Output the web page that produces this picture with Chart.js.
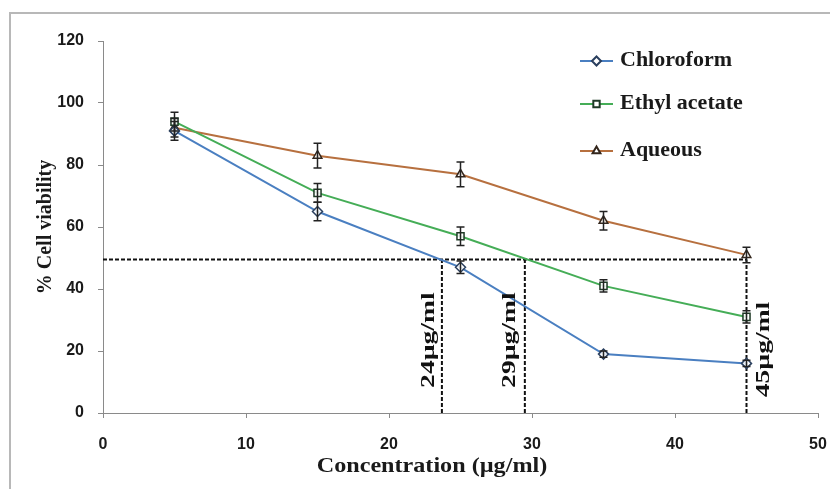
<!DOCTYPE html>
<html>
<head>
<meta charset="utf-8">
<script src="https://cdn.jsdelivr.net/npm/chart.js@4.4.1/dist/chart.umd.min.js"></script>
<style>
  html, body { margin: 0; padding: 0; background: #fff; }
  #wrap { width: 830px; height: 489px; position: relative; }
</style>
</head>
<body>
<div id="wrap"><canvas id="c" width="830" height="489"></canvas></div>
<script>
// ---- data ----
const concentrations = [5, 15, 25, 35, 45];
const seriesNames = ['Chloroform', 'Ethyl acetate', 'Aqueous'];
const chloroform = [91, 65, 47, 19, 16];
const ethylAcetate = [94, 71, 57, 41, 31];
const aqueous = [92, 83, 77, 62, 51];
const chloroformErr = [3, 3, 2, 1, 1];
const ethylAcetateErr = [3, 3, 3, 2, 2];
const aqueousErr = [3, 4, 4, 3, 2.5];
const cutoffViability = 49.5;
const ic50Values = [23.7, 29.5, 45];
const ic50Labels = ['24µg/ml', '29µg/ml', '45µg/ml'];
const xTicks = [0, 10, 20, 30, 40, 50];
const yTicks = [0, 20, 40, 60, 80, 100, 120];

const SERIF = "'Liberation Serif', 'Times New Roman', serif";
const NARROW = "'Liberation Sans Narrow', 'Arial Narrow', 'Liberation Sans', sans-serif";

const colors = {
  line: ['#4a7fc1', '#45ad57', '#b7703f'],
  marker: ['#2a3f5e', '#1f3a26', '#33261c']
};
const pointStyles = ['rectRot', 'rect', 'triangle'];
const values = [chloroform, ethylAcetate, aqueous];
const errors = [chloroformErr, ethylAcetateErr, aqueousErr];

const toXY = (xs, ys) => xs.map((x, i) => ({ x: x, y: ys[i] }));

const datasets = values.map((v, i) => ({
  label: seriesNames[i],
  data: toXY(concentrations, v),
  borderColor: colors.line[i],
  borderWidth: 2,
  pointStyle: pointStyles[i],
  pointRadius: 5,
  pointBackgroundColor: 'rgba(255,255,255,0.85)',
  pointBorderColor: colors.marker[i],
  pointBorderWidth: 1.5,
  tension: 0,
  errors: errors[i],
  order: 1
}));

// dashed guide lines
const dashStyle = { borderColor: '#111', borderWidth: 2, borderDash: [4, 2], pointRadius: 0, isGuide: true, order: 2 };
datasets.push(Object.assign({ label: 'cutoff', data: [{ x: 0, y: cutoffViability }, { x: ic50Values[2], y: cutoffViability }] }, dashStyle));
ic50Values.forEach((v, i) => {
  datasets.push(Object.assign({ label: 'ic50-' + i, data: [{ x: v, y: 0 }, { x: v, y: cutoffViability }] }, dashStyle));
});

const errorBarPlugin = {
  id: 'errorBars',
  afterDatasetsDraw(chart) {
    const ctx = chart.ctx, xs = chart.scales.x, ys = chart.scales.y;
    ctx.save();
    ctx.strokeStyle = '#222';
    ctx.lineWidth = 1.5;
    chart.data.datasets.forEach((ds) => {
      if (!ds.errors) return;
      ds.data.forEach((p, j) => {
        const e = ds.errors[j];
        const px = xs.getPixelForValue(p.x);
        const y1 = ys.getPixelForValue(p.y + e);
        const y2 = ys.getPixelForValue(p.y - e);
        ctx.beginPath();
        ctx.moveTo(px, y1); ctx.lineTo(px, y2);
        ctx.moveTo(px - 4, y1); ctx.lineTo(px + 4, y1);
        ctx.moveTo(px - 4, y2); ctx.lineTo(px + 4, y2);
        ctx.stroke();
      });
    });
    ctx.restore();
  }
};

function stretchedText(ctx, text, x, y, sx, rot) {
  ctx.save();
  ctx.translate(x, y);
  if (rot) ctx.rotate(rot);
  ctx.scale(sx, 1);
  ctx.fillText(text, 0, 0);
  ctx.restore();
}

const decorPlugin = {
  id: 'decor',
  beforeDraw(chart) {
    const ctx = chart.ctx;
    ctx.save();
    ctx.strokeStyle = '#b8b8b8';
    ctx.lineWidth = 2;
    ctx.strokeRect(10, 13, 900, 600);
    ctx.restore();
  },
  afterDraw(chart) {
    const ctx = chart.ctx, xs = chart.scales.x, ys = chart.scales.y;
    ctx.save();
    // IC50 labels (rotated)
    ctx.fillStyle = '#111';
    ctx.font = 'bold 19px ' + SERIF;
    ctx.textAlign = 'center';
    ctx.textBaseline = 'middle';
    const offsets = [-13, -15, 18];
    const centers = [23.5, 23.5, 20.5];
    ic50Values.forEach((v, i) => {
      const px = xs.getPixelForValue(v) + offsets[i];
      const py = ys.getPixelForValue(centers[i]);
      stretchedText(ctx, ic50Labels[i], px, py, 1.45, -Math.PI / 2);
    });
    // x title
    ctx.font = 'bold 21px ' + SERIF;
    ctx.fillStyle = '#1a1a1a';
    stretchedText(ctx, 'Concentration (µg/ml)', 432, 467, 1.15, 0);
    // legend
    const lx = 580, ly = [61, 104, 151];
    chart.data.datasets.forEach((ds, i) => {
      if (ds.isGuide) return;
      const y = ly[i];
      ctx.strokeStyle = ds.borderColor;
      ctx.lineWidth = 2;
      ctx.beginPath(); ctx.moveTo(lx, y); ctx.lineTo(lx + 33, y); ctx.stroke();
      ctx.fillStyle = '#fff';
      ctx.strokeStyle = ds.pointBorderColor;
      Chart.helpers.drawPoint(ctx, { pointStyle: ds.pointStyle, radius: 4.5, borderWidth: 1.5 }, lx + 16.5, y);
      ctx.fillStyle = '#1a1a1a';
      ctx.font = 'bold 20px ' + SERIF;
      ctx.textAlign = 'left';
      stretchedText(ctx, ds.label, lx + 40, y, 1.1, 0);
    });
    ctx.restore();
  }
};

new Chart(document.getElementById('c'), {
  type: 'line',
  data: { datasets: datasets },
  plugins: [errorBarPlugin, decorPlugin],
  options: {
    responsive: false,
    animation: false,
    layout: { padding: { top: 41, right: 12, left: 0, bottom: 0 } },
    plugins: { legend: { display: false }, tooltip: { enabled: false } },
    scales: {
      x: {
        type: 'linear',
        min: 0, max: 50,
        afterBuildTicks: (s) => { s.ticks = xTicks.map(v => ({ value: v })); },
        afterFit: (s) => { s.height = 76; s.paddingRight = 0; s.paddingLeft = 0; },
        grid: { drawOnChartArea: false, drawTicks: true, tickLength: 5, color: '#8a8a8a' },
        border: { display: true, color: '#8a8a8a', width: 1 },
        ticks: { font: { family: NARROW, size: 16, weight: 'bold' }, color: '#1a1a1a', padding: 17, maxRotation: 0 }
      },
      y: {
        min: 0, max: 120,
        afterBuildTicks: (s) => { s.ticks = yTicks.map(v => ({ value: v })); },
        afterFit: (s) => { s.width = 103; s.paddingTop = 0; s.paddingBottom = 0; },
        grid: { drawOnChartArea: false, drawTicks: true, tickLength: 5, color: '#8a8a8a' },
        border: { display: true, color: '#8a8a8a', width: 1 },
        ticks: { font: { family: NARROW, size: 16, weight: 'bold' }, color: '#1a1a1a', padding: 14 },
        title: {
          display: true, text: '% Cell viability',
          font: { family: SERIF, size: 20, weight: 'bold' }, color: '#1a1a1a',
          padding: { top: 34, bottom: 0 }
        }
      }
    }
  }
});
</script>
</body>
</html>
